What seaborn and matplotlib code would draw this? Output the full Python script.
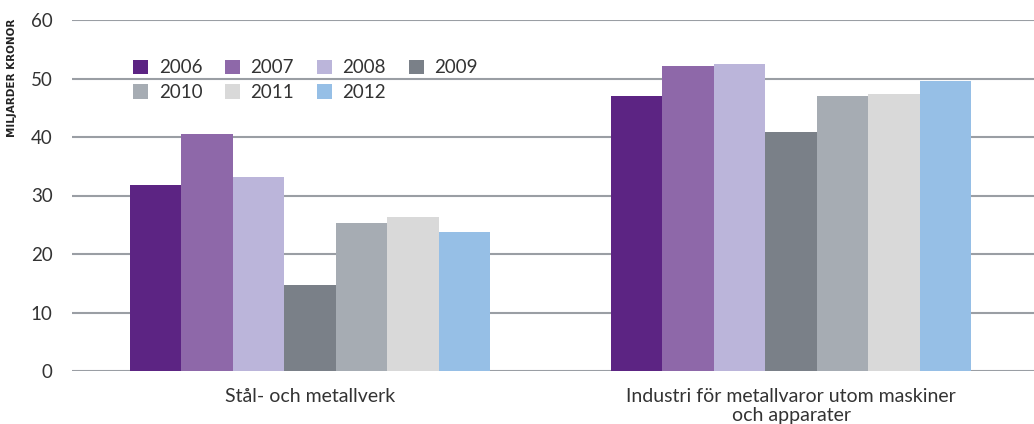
import matplotlib
matplotlib.use("Agg")
import matplotlib.pyplot as plt
import seaborn as sns
import pandas as pd

categories = ["Stål- och metallverk", "Industri för metallvaror utom maskiner\noch apparater"]
years = ["2006", "2007", "2008", "2009", "2010", "2011", "2012"]
steel = [31.8, 40.5, 33.2, 14.7, 25.3, 26.3, 23.8]
metal_goods = [47.0, 52.1, 52.5, 40.9, 47.0, 47.4, 49.6]
colors = ["#5c2483", "#8e68a9", "#bbb5da", "#7a8088", "#a6acb3", "#d9d9d9", "#96bfe6"]

rows = []
for yr, a, b in zip(years, steel, metal_goods):
    rows.append({"kategori": categories[0], "år": yr, "värde": a})
    rows.append({"kategori": categories[1], "år": yr, "värde": b})
df = pd.DataFrame(rows)

sns.set_theme(style="white")
plt.rcParams["font.family"] = ["Lato", "DejaVu Sans"]

fig = plt.figure(figsize=(10.34, 4.24), dpi=100)
ax = fig.add_axes([72 / 1034, 53 / 424, 962 / 1034, 351 / 424])

sns.barplot(data=df, x="kategori", y="värde", hue="år", order=categories,
            hue_order=years, palette=colors, width=0.75, saturation=1,
            linewidth=0, ax=ax, zorder=2)

ax.set_ylim(0, 60)
ax.set_xlim(-0.495, 1.505)
ax.set_yticks(range(0, 61, 10))
ax.yaxis.grid(True, color="#9a9ea4", linewidth=1.5, zorder=0)
ax.set_axisbelow(True)
for s in ax.spines.values():
    s.set_visible(False)
ax.tick_params(axis="both", length=0, colors="#333333")
ax.tick_params(axis="y", pad=14, labelsize=13.5)
ax.tick_params(axis="x", pad=12, labelsize=14)
ax.set_xlabel("")
ax.set_ylabel("")
for lbl in ax.get_xticklabels():
    lbl.set_linespacing(1.15)

# legend filled row by row: 2006-2009 on the first row, 2010-2012 on the second
handles, labels = ax.get_legend_handles_labels()
order = [0, 4, 1, 5, 2, 6, 3]
leg = ax.legend([handles[i] for i in order], [labels[i] for i in order],
                loc="upper left", bbox_to_anchor=(61 / 962, 0.888), ncol=4,
                frameon=False, fontsize=13.5, handlelength=0.82, handleheight=0.82,
                handletextpad=0.55, columnspacing=1.2, labelspacing=0.42,
                borderaxespad=0, borderpad=0)
for t in leg.get_texts():
    t.set_color("#333333")

fig.text(12 / 1034, 1 - 78 / 424, "MILJARDER KRONOR", rotation=90, ha="center",
         va="center", fontsize=7.5, fontweight="bold", color="#222222",
         family=["DejaVu Sans"])

fig.savefig("out.png", dpi=100)
